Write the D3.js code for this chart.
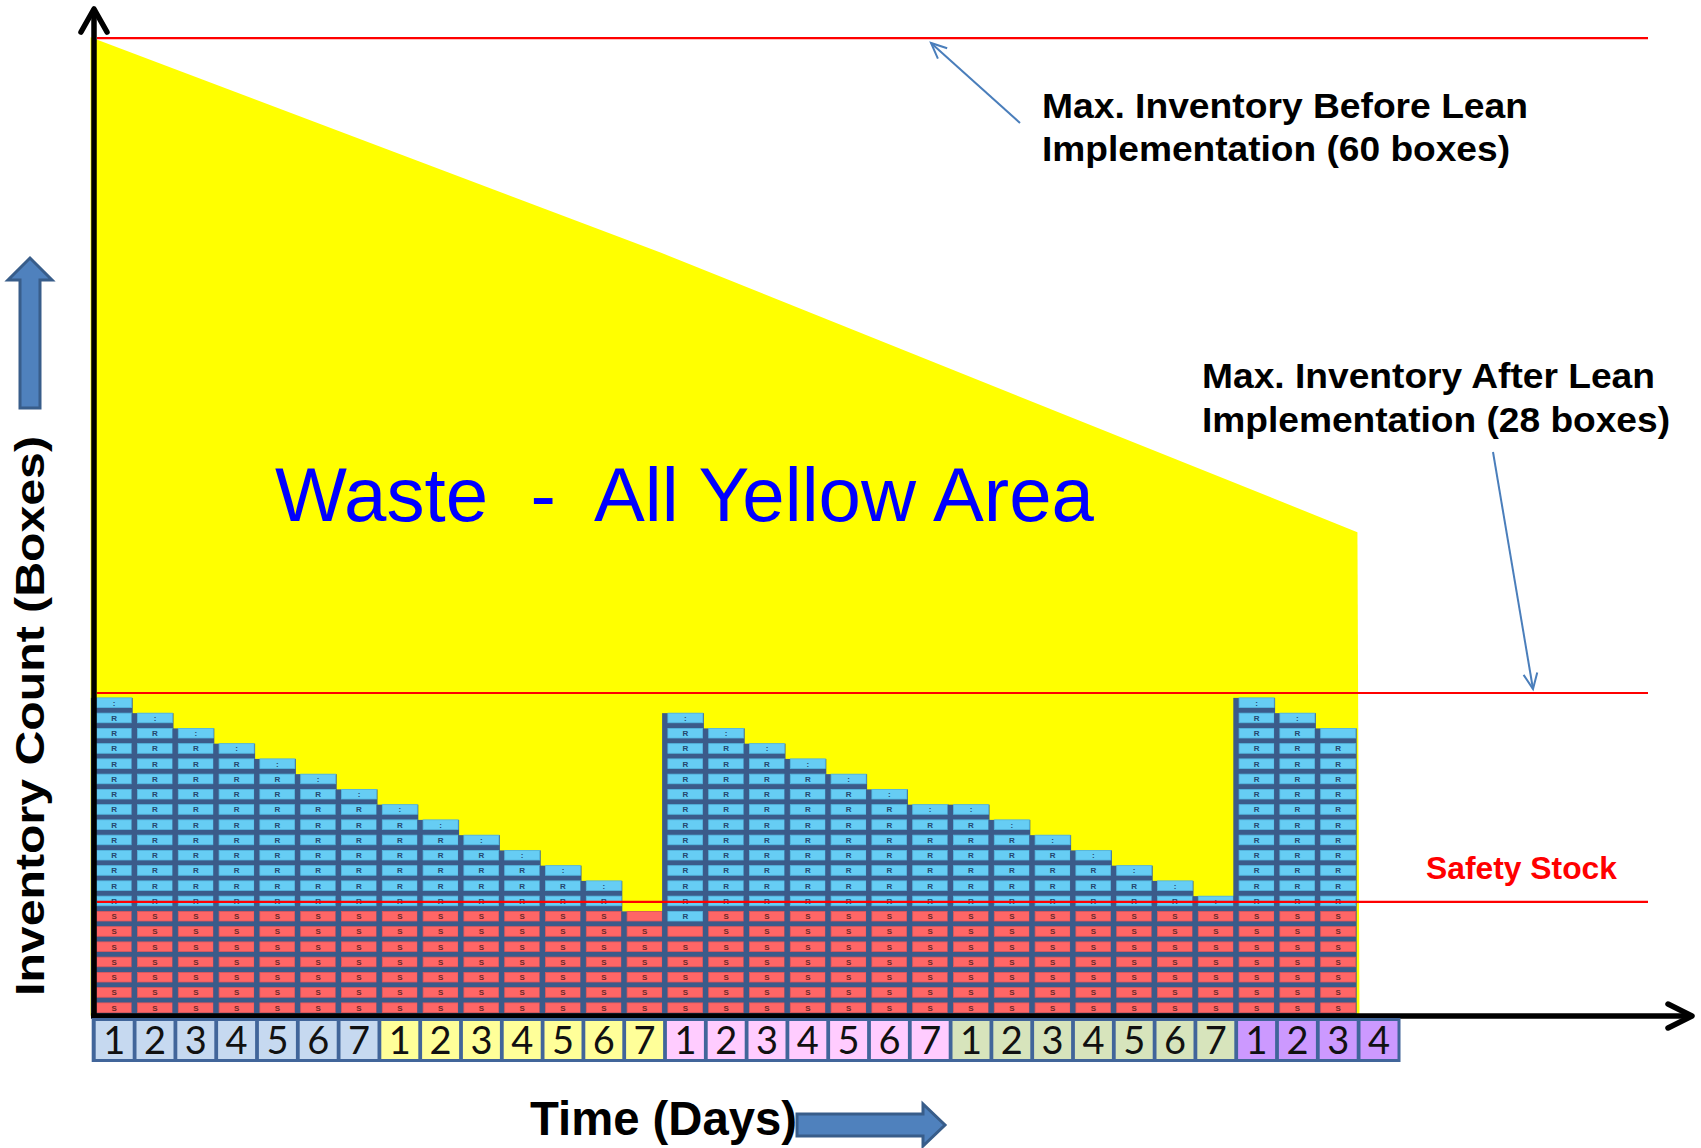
<!DOCTYPE html>
<html><head><meta charset="utf-8">
<script src="https://cdn.jsdelivr.net/npm/d3@7"></script>
<style>html,body{margin:0;padding:0;background:#fff;} svg{display:block;}</style>
</head><body>
<svg id="chart" width="1701" height="1148"></svg>
<script>
// ---------- data ----------
const dayLabels = ["1","2","3","4","5","6","7","1","2","3","4","5","6","7","1","2","3","4","5","6","7","1","2","3","4","5","6","7","1","2","3","4"];
const weekOfLabel = [0,0,0,0,0,0,0,1,1,1,1,1,1,1,2,2,2,2,2,2,2,3,3,3,3,3,3,3,4,4,4,4];
const weekColors = ["#c6d9f0","#ffff99","#ffccff","#d7e4bc","#cc99ff"];
// boxes in stock at each day (columns)
const inventory = [21,20,19,18,17,16,15, 14,13,12,11,10,9,7, 20,19,18,17,16,15,14, 14,13,12,11,10,9,8, 21,20,19];
const safetyStockBoxes = 7;
const blueInSafety = [[14,6]];          // [day index, row] replenished box inside safety band
const blankBoxes = [[13,6],[14,5],[30,18]];
// reference lines (in box units of the drawing)
const refLineValues = [63.9, 20.95, 7.25];
// upper edge of the yellow "waste" area
const wasteTopT = [-0.15, 13.85, 30.9];
const wasteTopV = [63.95, 49.8, 31.5];

// ---------- scales ----------
const svg = d3.select("#chart");
const FONT = "'Liberation Sans', Arial, sans-serif";
const n = dayLabels.length;
const x = d3.scaleBand().domain(d3.range(n))
  .range([96.7, 96.7 + 40.8 * (n - 0.142)]).paddingInner(0.142).paddingOuter(0).align(0);
const bw = x.bandwidth();
const xLin = d3.scaleLinear().domain([0, 1]).range([96.7, 137.5]);
const y = d3.scaleLinear().domain([0, 64]).range([1012.5, 1012.5 - 64 * 15.25]);
const BOXH = 0.63;

// ---------- yellow waste area ----------
const lastT = wasteTopT[wasteTopT.length - 1];
const poly = wasteTopT.map((t, i) => [xLin(t), y(wasteTopV[i])]);
poly.push([xLin(lastT + 0.05), y(-0.2)]);
poly.push([xLin(wasteTopT[0]), y(-0.2)]);
svg.append("path").attr("d", d3.line()(poly) + "Z").attr("fill", "#ffff00");

// ---------- inventory columns ----------
const isIn = (arr, i, k) => arr.some(d => d[0] === i && d[1] === k);
const cols = svg.append("g");
inventory.forEach((cnt, i) => {
  cols.append("rect")
    .attr("x", x(i) - 5.8).attr("width", bw + 6.8)
    .attr("y", y(cnt - 1 + BOXH)).attr("height", y(-0.25) - y(cnt - 1 + BOXH))
    .attr("fill", "#3b5b8a");
  for (let k = 0; k < cnt; k++) {
    const red = k < safetyStockBoxes && !isIn(blueInSafety, i, k);
    cols.append("rect")
      .attr("x", x(i)).attr("width", bw)
      .attr("y", y(k + BOXH)).attr("height", y(k) - y(k + BOXH))
      .attr("fill", red ? "#ff6666" : "#66cdf4")
      .attr("stroke", red ? "#e0575a" : "#55b8e0").attr("stroke-width", 0.8);
    let lab = red ? "S" : "R";
    if (k === cnt - 1 && !red) lab = ":";
    if (isIn(blankBoxes, i, k)) lab = "";
    if (lab) cols.append("text")
      .attr("x", x(i) + bw / 2).attr("y", y(k + BOXH / 2) + 3)
      .attr("text-anchor", "middle").attr("font-family", FONT)
      .attr("font-size", 8).attr("font-weight", "bold")
      .attr("fill", red ? "#6a2a2a" : "#24466e").text(lab);
  }
});

// ---------- reference lines ----------
svg.append("g").selectAll("line").data(refLineValues).join("line")
  .attr("x1", 97).attr("x2", 1648)
  .attr("y1", d => y(d)).attr("y2", d => y(d))
  .attr("stroke", "#ff0000").attr("stroke-width", 2.2);

// ---------- axes ----------
const ax = svg.append("g").attr("fill", "none").attr("stroke", "#000")
  .attr("stroke-width", 5.5).attr("stroke-linecap", "round").attr("stroke-linejoin", "round");
ax.append("path").attr("d", "M94,1016 L94,10").attr("stroke-linecap", "butt");
ax.append("path").attr("d", "M81,32 L94,9 L107,32");
ax.append("path").attr("d", "M91,1016 L1690,1016").attr("stroke-linecap", "butt");
ax.append("path").attr("d", "M1668,1004 L1692,1016 L1668,1028");

// ---------- day label strip ----------
svg.append("rect").attr("x", x(0) - 5).attr("y", 1018)
  .attr("width", x(n - 1) + bw + 4 - (x(0) - 5)).attr("height", 44)
  .attr("fill", "#41659a");
const lab = svg.append("g");
dayLabels.forEach((d, i) => {
  lab.append("rect").attr("x", x(i) - 1).attr("y", 1021)
    .attr("width", bw + 2).attr("height", 38)
    .attr("fill", weekColors[weekOfLabel[i]]);
  lab.append("text").attr("x", x(i) + bw / 2).attr("y", 1054)
    .attr("text-anchor", "middle").attr("font-family", "Lato, 'Open Sans', sans-serif")
    .attr("font-size", 38).attr("fill", "#111").text(d);
});

// ---------- block arrows ----------
svg.append("path").attr("d", "M20,408 L20,280 L8,280 L30,258 L52,280 L40,280 L40,408 Z")
  .attr("fill", "#4f81bd").attr("stroke", "#385d8a").attr("stroke-width", 3);
svg.append("path").attr("d", "M797,1114 L923,1114 L923,1104 L945,1125 L923,1146 L923,1136 L797,1136 Z")
  .attr("fill", "#4f81bd").attr("stroke", "#385d8a").attr("stroke-width", 3);

// ---------- pointer lines ----------
function pointer(x1, y1, x2, y2) {
  const g = svg.append("g").attr("stroke", "#4a7ebb").attr("stroke-width", 2).attr("fill", "none");
  g.append("line").attr("x1", x1).attr("y1", y1).attr("x2", x2).attr("y2", y2);
  const a = Math.atan2(y1 - y2, x1 - x2), L = 17, s = 0.42;
  g.append("path").attr("d",
    `M${x2 + L * Math.cos(a + s)},${y2 + L * Math.sin(a + s)} L${x2},${y2} L${x2 + L * Math.cos(a - s)},${y2 + L * Math.sin(a - s)}`);
}
pointer(1020, 123, 931, 43);
pointer(1493, 452, 1533, 689);

// ---------- texts ----------
function txt(str, xx, yy, size, opts = {}) {
  const t = svg.append("text").attr("x", xx).attr("y", yy)
    .attr("font-family", FONT).attr("font-size", size)
    .attr("font-weight", opts.weight || "bold").attr("fill", opts.fill || "#000")
    .style("white-space", "pre").text(str);
  if (opts.len) t.attr("textLength", opts.len).attr("lengthAdjust", "spacingAndGlyphs");
  if (opts.anchor) t.attr("text-anchor", opts.anchor);
  if (opts.transform) t.attr("transform", opts.transform);
  return t;
}
txt("Max. Inventory Before Lean", 1042, 118, 35, { len: 486 });
txt("Implementation (60 boxes)", 1042, 161, 35, { len: 468 });
txt("Max. Inventory After Lean", 1202, 388, 35, { len: 453 });
txt("Implementation (28 boxes)", 1202, 432, 35, { len: 468 });
txt("Safety Stock", 1426, 879, 32, { len: 191, fill: "#ff0000" });
txt("Waste  -  All Yellow Area", 275, 521, 76, { len: 819, fill: "#0000ff", weight: "normal" });
txt("Time (Days)", 530, 1135, 48, { len: 267 });
svg.append("text").attr("transform", "translate(44,716) rotate(-90)")
  .attr("text-anchor", "middle").attr("font-family", FONT).attr("font-size", 41)
  .attr("font-weight", "bold").attr("textLength", 560).attr("lengthAdjust", "spacingAndGlyphs")
  .text("Inventory Count (Boxes)");
</script>
</body></html>
